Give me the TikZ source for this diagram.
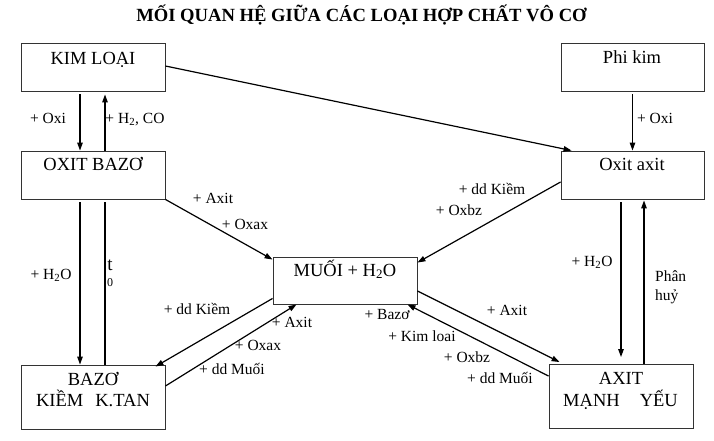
\documentclass[tikz,border=0pt]{standalone}
\usepackage{fontspec}
\setmainfont{Liberation Serif}
\usetikzlibrary{arrows.meta}
\begin{document}
\begin{tikzpicture}[x=1pt,y=-1pt,
  box/.style={draw=black!80,line width=0.9pt,rectangle,minimum width=144pt,minimum height=48pt,inner sep=0pt},
  tbox/.style={font=\fontsize{18.5}{21}\selectfont,inner sep=0pt,anchor=mid},
  lab/.style={font=\fontsize{15.5}{18}\selectfont,inner sep=0pt,anchor=mid},
  arr/.style={line width=1.2pt,-{Triangle[length=8pt,width=5.5pt]}},
  ln/.style={line width=1.2pt}]
\useasboundingbox (0,0) rectangle (714,441);
\node[font=\bfseries\fontsize{18.6}{21}\selectfont,inner sep=0pt,anchor=mid] (title) at (361.5,19.5) {MỐI QUAN HỆ GIỮA CÁC LOẠI HỢP CHẤT VÔ CƠ};
% boxes
\node[box] (kim) at (93,67) {};
\node[box] (oxb) at (93,175) {};
\node[box,minimum width=143pt] (phi) at (632.5,67) {};
\node[box,minimum width=143pt] (oxa) at (632.5,175) {};
\node[box,minimum height=47pt] (muoi) at (345,280.5) {};
\node[box,minimum height=64pt] (baz) at (93,397) {};
\node[box,minimum height=64pt] (axit) at (621,396.5) {};
% box texts
\node[tbox] (tkim) at (93,62) {KIM LOẠI};
\node[tbox] (toxb) at (93,168) {OXIT BAZƠ};
\node[tbox] (tphi) at (632,61) {Phi kim};
\node[tbox] (toxa) at (632,168) {Oxit axit};
\node[tbox] (tmuoi) at (345,274) {MUỐI + H\textsubscript{2}O};
\node[tbox] (tbaz1) at (93,383) {BAZƠ};
\node[tbox] (tbaz2) at (93,404) {KIỀM\hspace{12pt}K.TAN};
\node[tbox] (tax1) at (621,382) {AXIT};
\node[tbox] (tax2) at (620.5,404) {MẠNH\hspace{20pt}YẾU};
% connectors
\draw[arr] ([xshift=-13pt,yshift=-3pt]kim.south) -- ([xshift=-13pt]oxb.north);
\draw[arr] ([xshift=12pt]oxb.north) -- ([xshift=12pt,yshift=-3pt]kim.south);
\draw[arr] ([xshift=-13pt,yshift=-3pt]oxb.south) -- ([xshift=-13pt]baz.north);
\draw[ln] ([xshift=12pt]baz.north) -- ([xshift=12pt,yshift=-3pt]oxb.south);
\draw[arr] ([yshift=1pt]kim.east) -- ([xshift=11pt]oxa.north west);
\draw[arr] ([yshift=-3pt]phi.south) -- (oxa.north);
\draw[arr] ([yshift=-7pt]oxa.west) -- ([yshift=-6pt]muoi.north east);
\draw[arr] ([xshift=-11.5pt,yshift=-3pt]oxa.south) -- ([yshift=7pt]axit.north);
\draw[arr] ([xshift=23pt]axit.north) -- ([xshift=11.5pt,yshift=-1pt]oxa.south);
\draw[arr] (oxb.south east) -- ([yshift=-3pt]muoi.north west);
\draw[arr] ([yshift=6pt]muoi.south west) -- ([xshift=-10pt,yshift=-2pt]baz.north east);
\draw[arr] ([yshift=11pt]baz.east) -- ([xshift=24pt]muoi.south west);
\draw[arr] ([yshift=-10.5pt]muoi.east) -- ([xshift=11pt,yshift=2pt]axit.north west);
\draw[arr] ([yshift=-12pt]axit.north west) -- ([xshift=-10pt]muoi.south east);
% labels
\node[lab] (l1) at (48,121) {+ Oxi};
\node[lab] (l2) at (135,121) {+ H\textsubscript{2}, CO};
\node[lab] (l3) at (51,277) {+ H\textsubscript{2}O};
\node[font=\fontsize{19}{21}\selectfont,inner sep=0pt,anchor=mid] (l4) at (110,268) {t};
\node[font=\fontsize{12}{13}\selectfont,inner sep=0pt,anchor=mid] (l5) at (110,284) {0};
\node[lab] (l6) at (213,201) {+ Axit};
\node[lab] (l7) at (245,227) {+ Oxax};
\node[lab] (l8) at (492,192) {+ dd Kiềm};
\node[lab] (l9) at (459,213) {+ Oxbz};
\node[lab] (l10) at (655,121) {+ Oxi};
\node[lab] (l11) at (592,264) {+ H\textsubscript{2}O};
\node[lab,anchor=mid west] (l12) at (655,279) {Phân};
\node[lab,anchor=mid west] (l13) at (655,298) {huỷ};
\node[lab] (l14) at (197,312) {+ dd Kiềm};
\node[lab] (l15) at (292,325) {+ Axit};
\node[lab] (l16) at (258,348) {+ Oxax};
\node[lab] (l17) at (232,372) {+ dd Muối};
\node[lab] (l18) at (507,313) {+ Axit};
\node[lab] (l19) at (387,317) {+ Bazơ};
\node[lab] (l20) at (422,339) {+ Kim loai};
\node[lab] (l21) at (467,360) {+ Oxbz};
\node[lab] (l22) at (500,381) {+ dd Muối};
\end{tikzpicture}
\end{document}
